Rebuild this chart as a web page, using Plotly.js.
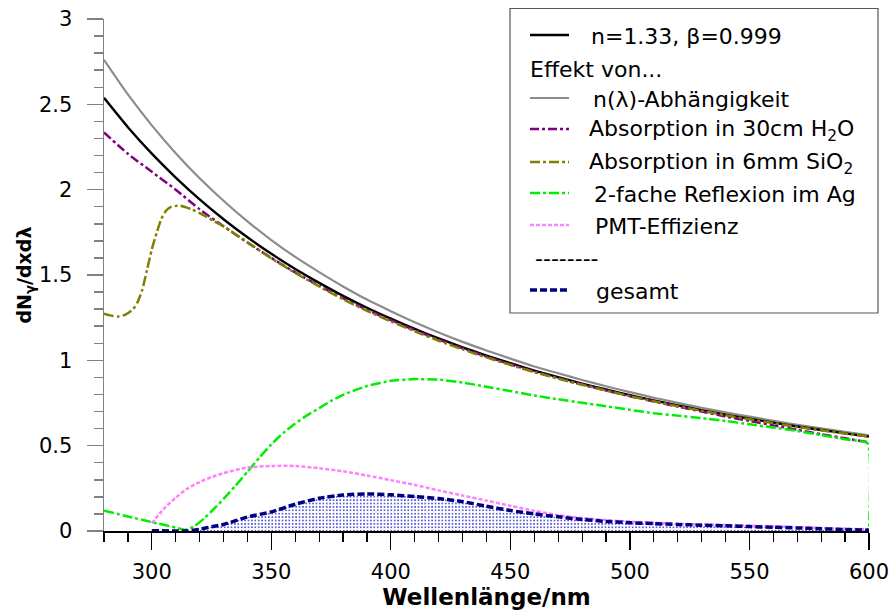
<!DOCTYPE html>
<html>
<head>
<meta charset="utf-8">
<script src="https://cdn.plot.ly/plotly-3.0.1.min.js"></script>
<style>html,body{margin:0;padding:0;background:#fff;}#chart{width:890px;height:612px;}</style>
</head>
<body>
<div id="chart"></div>
<script>
// ---- data ----
const wl = [280,290,300,310,320,330,340,350,360,370,380,390,400,410,420,430,440,450,460,470,480,490,500,510,520,530,540,550,560,570,580,590,600];
const ideal = [2.538,2.366,2.211,2.071,1.943,1.827,1.721,1.624,1.535,1.454,1.378,1.308,1.244,1.184,1.128,1.076,1.028,0.983,0.940,0.901,0.864,0.829,0.796,0.765,0.736,0.708,0.682,0.658,0.635,0.612,0.592,0.572,0.553];
const nLambda = [2.761,2.558,2.377,2.214,2.067,1.935,1.814,1.705,1.606,1.517,1.433,1.356,1.288,1.223,1.163,1.108,1.058,1.010,0.964,0.924,0.885,0.848,0.814,0.781,0.751,0.722,0.695,0.670,0.646,0.622,0.601,0.581,0.561];
const absH2O = [2.335,2.21,2.105,2.000,1.885,1.786,1.690,1.600,1.515,1.437,1.364,1.296,1.236,1.177,1.122,1.070,1.022,0.977,0.934,0.895,0.858,0.823,0.790,0.759,0.729,0.700,0.671,0.645,0.619,0.593,0.567,0.543,0.52];

const wlSiO2 = [280,283,286,289,292,294,296,298,300,302,304,306,308,310,312,314,317,320,323,326,330,340,350,360,370,380,390,400,410,420,430,440,450,460,470,480,490,500,510,520,530,540,550,560,570,580,590,600];
const absSiO2 = [1.273,1.262,1.257,1.268,1.297,1.34,1.413,1.53,1.65,1.745,1.83,1.878,1.899,1.905,1.906,1.898,1.883,1.862,1.84,1.815,1.785,1.692,1.598,1.512,1.433,1.358,1.290,1.228,1.170,1.115,1.064,1.017,0.973,0.931,0.893,0.857,0.823,0.790,0.760,0.731,0.704,0.678,0.655,0.632,0.610,0.590,0.571,0.553];

const wlAg = [280,290,300,310,314,318,322,326,330,335,340,345,350,355,360,365,370,375,380,390,400,410,420,430,440,450,460,470,480,490,500,510,520,530,540,550,560,570,580,590,599.5,600];
const reflAg = [0.119,0.085,0.052,0.02,0.006,0.03,0.075,0.13,0.188,0.265,0.347,0.43,0.508,0.575,0.63,0.678,0.72,0.762,0.798,0.85,0.88,0.89,0.887,0.87,0.845,0.82,0.794,0.772,0.751,0.731,0.71,0.69,0.676,0.661,0.645,0.625,0.606,0.586,0.562,0.538,0.513,0];

const wlPMT = [300,305,310,315,320,325,330,340,350,360,370,380,390,400,410,420,430,440,450,460,470,480,490,500,510,520,530,540,550,560,570,580,590,600];
const pmt = [0.045,0.13,0.195,0.25,0.287,0.316,0.339,0.372,0.381,0.381,0.368,0.35,0.325,0.298,0.27,0.238,0.208,0.178,0.148,0.118,0.093,0.076,0.064,0.055,0.048,0.042,0.038,0.035,0.031,0.027,0.022,0.017,0.013,0.01];

const wlTot = [300,310,315,320,325,330,340,350,360,370,380,390,400,410,420,430,440,450,460,470,480,490,500,510,520,530,540,550,560,570,580,590,600];
const total = [0.002,0.0,0.0,0.01,0.025,0.038,0.082,0.112,0.157,0.192,0.211,0.217,0.212,0.202,0.19,0.172,0.145,0.12,0.1,0.083,0.068,0.056,0.049,0.043,0.038,0.034,0.031,0.026,0.022,0.018,0.013,0.009,0.005];

const legendLabels = ['n=1.33, β=0.999','Effekt von...','n(λ)-Abhängigkeit','Absorption in 30cm H<sub>2</sub>O','Absorption in 6mm SiO<sub>2</sub>','2-fache Reflexion im Ag','PMT-Effizienz','--------','gesamt'];
const xTitle = 'Wellenlänge/nm';
const yTitle = 'dN<sub>γ</sub>/dxdλ';

// ---- styles ----
const S = {
  ideal:  {color:'#000000', width:2.4, dash:'solid'},
  nLam:   {color:'#8c8c8c', width:2.2, dash:'solid'},
  h2o:    {color:'#800080', width:2.5, dash:'9px,3px,3px,3px'},
  sio2:   {color:'#808000', width:2.5, dash:'10px,3px,3px,3px'},
  ag:     {color:'#00ee00', width:2.5, dash:'10px,3px,3px,3px'},
  pmt:    {color:'#ff80ff', width:2.5, dash:'4px,2px'},
  tot:    {color:'#000080', width:3.5, dash:'7px,3px'}
};
const sp = st => Object.assign({shape:'spline', smoothing:0.6}, st);

const traces = [
  {x:wlTot, y:total, mode:'lines', line:{color:'rgba(0,0,0,0)', width:0, shape:'spline', smoothing:0.6}, fill:'tozeroy',
   fillcolor:'rgba(255,255,255,0)', fillpattern:{shape:'.', fgcolor:'#3535d0', bgcolor:'rgba(255,255,255,0)', size:3.4, solidity:0.22}, hoverinfo:'skip'},
  {x:wl, y:nLambda, mode:'lines', line:sp(S.nLam)},
  {x:wl, y:ideal, mode:'lines', line:sp(S.ideal)},
  {x:wl, y:absH2O, mode:'lines', line:sp(S.h2o)},
  {x:wlSiO2, y:absSiO2, mode:'lines', line:sp(S.sio2)},
  {x:wlAg, y:reflAg, mode:'lines', line:Object.assign({shape:'spline', smoothing:0.4}, S.ag)},
  {x:wlPMT, y:pmt, mode:'lines', line:sp(S.pmt)},
  {x:wlTot, y:total, mode:'lines', line:sp(S.tot)}
];
traces.forEach(t => t.showlegend = false);

// ---- legend (drawn manually) ----
const L = 104, R = 869, T = 19, B = 531;
const px = v => (v - L) / (R - L);
const py = v => (B - v) / (B - T);
const shapes = [
  {type:'rect', xref:'paper', yref:'paper', x0:px(510), x1:px(878), y0:py(8.5), y1:py(313), line:{color:'#555555', width:1.2}, fillcolor:'white', layer:'above'}
];
const rowsY = [35, 68, 98, 129, 162, 193, 225, 257, 290];
const rowStyle = [S.ideal, null, S.nLam, S.h2o, S.sio2, S.ag, S.pmt, null, S.tot];
const textX = [589, 528, 591, 587, 587, 592, 593, 533, 594];
const annotations = [];
rowsY.forEach((y, i) => {
  if (rowStyle[i]) {
    shapes.push({type:'line', xref:'paper', yref:'paper', x0:px(530), x1:px(569), y0:py(y), y1:py(y),
      line:{color:rowStyle[i].color, width:rowStyle[i].width, dash:rowStyle[i].dash}, layer:'above'});
  }
  annotations.push({xref:'paper', yref:'paper', x:px(textX[i]), y:py(y + 1), xanchor:'left', yanchor:'middle',
    text:legendLabels[i], showarrow:false, font:{family:'DejaVu Sans', size:22, color:'#000'}});
});

const layout = {
  width:890, height:612,
  margin:{l:L, r:890-R, t:T, b:612-B},
  paper_bgcolor:'white', plot_bgcolor:'white',
  font:{family:'DejaVu Sans', size:21, color:'#000'},
  xaxis:{range:[280,600], tick0:300, dtick:50, ticks:'outside', ticklen:17, tickwidth:1.2, tickcolor:'#000',
    showline:true, linecolor:'#000', linewidth:1.5, showgrid:false, zeroline:false, ticklabelstandoff:4,
    minor:{dtick:10, tick0:280, ticks:'outside', ticklen:9, tickwidth:1.2, tickcolor:'#000', showgrid:false},
    title:{text:xTitle, font:{family:'DejaVu Sans', size:23, weight:'bold'}, standoff:2}, automargin:false},
  yaxis:{range:[0,3], tick0:0, dtick:0.5, ticks:'outside', ticklen:16, tickwidth:1.5, tickcolor:'#808080',
    showline:true, linecolor:'#808080', linewidth:1.5, showgrid:false, zeroline:false, ticklabelstandoff:10,
    minor:{dtick:0.1, ticks:'outside', ticklen:9, tickwidth:1.5, tickcolor:'#808080', showgrid:false},
    title:{text:yTitle, font:{family:'DejaVu Sans', size:19, weight:'bold'}, standoff:2}, automargin:false},
  shapes:shapes,
  annotations:annotations,
  showlegend:false
};

Plotly.newPlot('chart', traces, layout, {displayModeBar:false, staticPlot:true});
</script>
</body>
</html>
